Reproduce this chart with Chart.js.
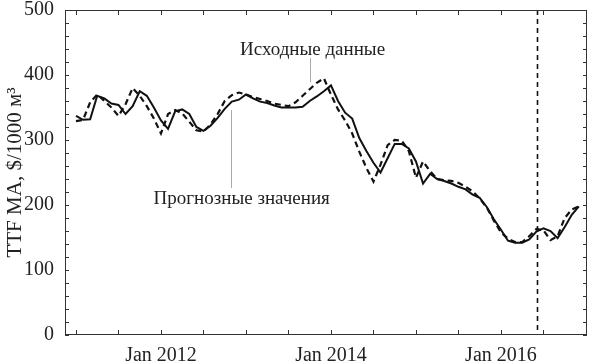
<!DOCTYPE html>
<html>
<head>
<meta charset="utf-8">
<script src="https://cdn.jsdelivr.net/npm/chart.js@4.4.1/dist/chart.umd.min.js"></script>
<style>
  html, body { margin: 0; padding: 0; background: #fff; }
</style>
</head>
<body>
<canvas id="myChart" width="592" height="363"></canvas>
<script>
"use strict";

//Månadsdata från jan 2011 (index 0) till dec 2016 (index 71)
const forecast = [
  337, 331, 332, 368, 364, 356, 354, 340, 352, 375, 368, 350,
  330, 317, 344, 347, 340, 320, 314, 322, 334, 348, 359, 362,
  370, 364, 359, 357, 353, 350, 350, 350, 351, 360, 367, 375,
  384, 360, 342, 333, 303, 283, 265, 250, 272, 294, 294, 287,
  267, 233, 248, 240, 237, 233, 228, 224, 216, 211, 197, 178,
  162, 145, 142, 142, 147, 159, 164, 160, 149, 166, 185, 198
];
const original = [
  329, 331, 358, 370, 360, 350, 337, 355, 380, 368, 352, 333,
  310, 340, 346, 341, 328, 315, 313, 324, 340, 360, 369, 373,
  370, 366, 363, 360, 356, 354, 352, 358, 368, 378, 388, 395,
  370, 347, 330, 310, 282, 257, 236, 262, 292, 300, 299, 283,
  242, 267, 252, 240, 238, 237, 234, 228, 221, 210, 196, 176,
  158, 148, 143, 143, 152, 163, 161, 146, 152, 180, 193, 198
];

//Axlar
const xTicks = [0, 6, 12, 18, 24, 30, 36, 42, 48, 54, 60, 66];
const labeledMonths = [12, 36, 60];
const labeledText = ["Jan 2012", "Jan 2014", "Jan 2016"];
const yLabelStep = 100;
const forecastStart = 65.1; //streckad vertikal linje (jun 2016)

const serif = "'Liberation Serif', 'Times New Roman', serif";

//Ram, inåtriktade skalstreck, vertikal linje och etiketter
const framePlugin = {
  id: "framePlugin",
  afterDatasetsDraw(chart) {
    const { ctx, chartArea: a, scales } = chart;
    const x = scales.x;
    const y = scales.y;
    ctx.save();

    //Vertikal streckad linje
    const vx = Math.round(x.getPixelForValue(forecastStart)) + 0.5;
    ctx.strokeStyle = "#111";
    ctx.lineWidth = 1.6;
    ctx.setLineDash([5, 4]);
    ctx.beginPath();
    ctx.moveTo(vx, a.top);
    ctx.lineTo(vx, a.bottom);
    ctx.stroke();
    ctx.setLineDash([]);

    //Ram
    ctx.strokeStyle = "#333";
    ctx.lineWidth = 1;
    ctx.strokeRect(a.left + 0.5, a.top + 0.5, a.right - a.left - 1, a.bottom - a.top - 1);

    //Skalstreck
    ctx.beginPath();
    x.ticks.forEach(function (t) {
      const px = Math.round(x.getPixelForValue(t.value)) + 0.5;
      ctx.moveTo(px, a.bottom);
      ctx.lineTo(px, a.bottom - 5);
      ctx.moveTo(px, a.top);
      ctx.lineTo(px, a.top + 5);
    });
    y.ticks.forEach(function (t) {
      const py = Math.round(y.getPixelForValue(t.value)) + 0.5;
      ctx.moveTo(a.left, py);
      ctx.lineTo(a.left + 4, py);
      ctx.moveTo(a.right, py);
      ctx.lineTo(a.right - 4, py);
    });
    ctx.stroke();

    //Pekarlinjer
    ctx.strokeStyle = "#aaa";
    ctx.lineWidth = 1;
    ctx.beginPath();
    let px = Math.round(x.getPixelForValue(33)) + 0.5;
    ctx.moveTo(px, y.getPixelForValue(426));
    ctx.lineTo(px, y.getPixelForValue(389));
    px = Math.round(x.getPixelForValue(21.9)) + 0.5;
    ctx.moveTo(px, y.getPixelForValue(346));
    ctx.lineTo(px, y.getPixelForValue(226));
    ctx.stroke();

    //Texter
    ctx.fillStyle = "#222";
    ctx.font = "19px " + serif;
    ctx.textAlign = "center";
    ctx.textBaseline = "middle";
    ctx.fillText("Исходные данные", x.getPixelForValue(33.4), y.getPixelForValue(438));
    ctx.fillText("Прогнозные значения", x.getPixelForValue(23.4), y.getPixelForValue(209));
    ctx.restore();
  },
};

const ctx = document.getElementById("myChart");

new Chart(ctx, {
  type: "line",
  data: {
    datasets: [
      {
        label: "Прогнозные значения",
        data: forecast.map(function (v, i) { return { x: i, y: v }; }),
        borderColor: "#111",
        borderWidth: 2,
        pointRadius: 0,
        tension: 0,
      },
      {
        label: "Исходные данные",
        data: original.map(function (v, i) { return { x: i, y: v }; }),
        borderColor: "#111",
        borderWidth: 2.2,
        borderDash: [6, 4],
        pointRadius: 0,
        tension: 0,
      },
    ],
  },
  options: {
    responsive: false,
    animation: false,
    layout: { padding: { top: 10, right: 5, left: 0, bottom: 0 } },
    plugins: {
      legend: { display: false },
      tooltip: { enabled: false },
    },
    scales: {
      x: {
        type: "linear",
        min: -1.55,
        max: 72.15,
        grid: { display: false },
        border: { display: false },
        afterBuildTicks: function (scale) {
          scale.ticks = xTicks.map(function (v) { return { value: v }; });
        },
        afterFit: function (scale) {
          scale.height = 28;
          scale.paddingLeft = 0;
          scale.paddingRight = 0;
        },
        ticks: {
          autoSkip: false,
          maxRotation: 0,
          padding: 1,
          color: "#222",
          font: { family: serif, size: 20 },
          callback: function (v) {
            const i = labeledMonths.indexOf(v);
            return i >= 0 ? labeledText[i] : "";
          },
        },
      },
      y: {
        min: 0,
        max: 500,
        grid: { display: false },
        border: { display: false },
        afterFit: function (scale) {
          scale.width = 65;
          scale.paddingTop = 0;
          scale.paddingBottom = 0;
        },
        title: {
          display: true,
          text: "TTF MA, $/1000 м³",
          color: "#222",
          font: { family: serif, size: 21 },
          padding: { top: 3, bottom: 0 },
        },
        ticks: {
          stepSize: 20,
          autoSkip: false,
          padding: 3,
          color: "#222",
          font: { family: serif, size: 20 },
          callback: function (v) {
            return v % yLabelStep === 0 ? v : "";
          },
        },
      },
    },
  },
  plugins: [framePlugin],
});
</script>
</body>
</html>
